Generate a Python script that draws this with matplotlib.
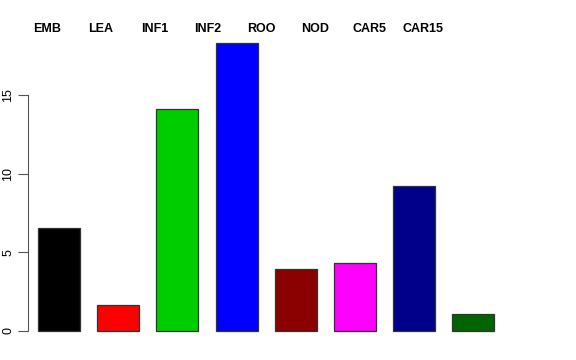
import matplotlib
matplotlib.use("Agg")
import matplotlib.pyplot as plt
import numpy as np

# organ groups and their values
groups = ["EMB", "LEA", "INF1", "INF2", "ROO", "NOD", "CAR5", "CAR15"]
values = [6.55, 1.65, 14.1, 18.3, 3.92, 4.32, 9.25, 1.08]
colors = ["#000000", "#FF0000", "#00CD00", "#0000FF", "#8B0000", "#FF00FF", "#00008B", "#006400"]
yticks = [0, 5, 10, 15]

plt.rcParams['font.family'] = ['Liberation Sans', 'DejaVu Sans']

W, H = 576, 360
fig = plt.figure(figsize=(W / 100, H / 100), dpi=100)

# axes placed in pixels to mimic the R plot region
left_px, right_px, top_px, bottom_px = 28, 540, 31.7, 342.5
ax = fig.add_axes([left_px / W, (H - bottom_px) / H,
                   (right_px - left_px) / W, (bottom_px - top_px) / H])

x = np.arange(len(groups))
ax.bar(x, values, width=0.71, color=colors, edgecolor="#333333", linewidth=0.9)

pitch = 59.2
ax.set_xlim((left_px - 59) / pitch, (right_px - 59) / pitch)
ymax = max(values)
ax.set_ylim(-0.04 * ymax, ymax * 1.04)

for s in ["top", "right", "bottom"]:
    ax.spines[s].set_visible(False)
ax.spines["left"].set_bounds(0, 15)
ax.spines["left"].set_color("#555555")
ax.set_xticks([])
ax.set_yticks(yticks)
ax.set_yticklabels([str(t) for t in yticks], rotation=90, va="center", fontsize=9)
ax.tick_params(axis="y", length=7, color="#555555", pad=3)

# group names across the top
for i, g in enumerate(groups):
    fig.text((47 + i * 53.7) / W, 1 - 29 / H, g, ha="center", va="center",
             fontsize=9, fontweight="bold")

fig.savefig("out.png", dpi=100)
